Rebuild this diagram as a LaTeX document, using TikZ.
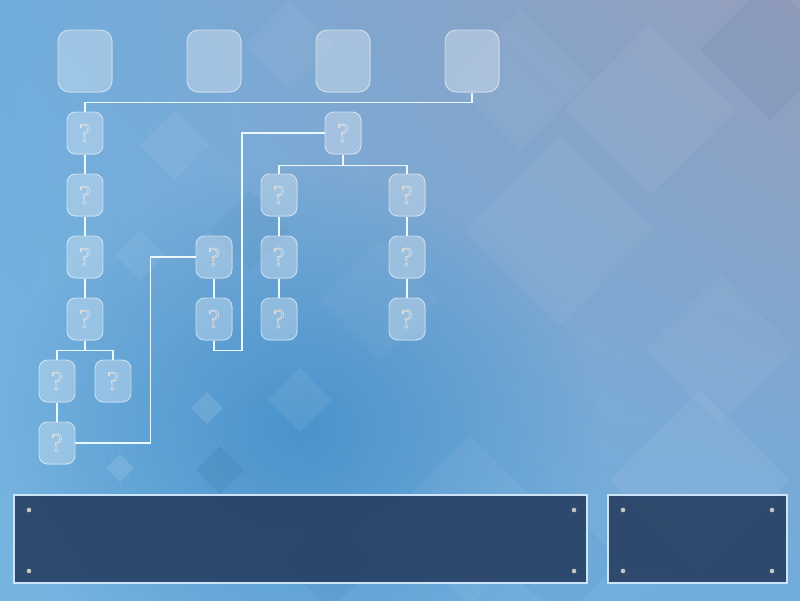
\documentclass[tikz,border=0pt]{standalone}
\usepackage{fontspec}
\setsansfont{DejaVu Sans}
\newfontfamily\qfont{Liberation Serif}
\usetikzlibrary{fadings,shadings}
\definecolor{bgtl}{RGB}{112,172,220}
\definecolor{bgtr}{RGB}{150,158,188}
\definecolor{bgbl}{RGB}{118,180,224}
\definecolor{bgbr}{RGB}{112,172,220}
\definecolor{bgdeep}{RGB}{58,138,200}
\definecolor{panelblue}{RGB}{38,60,96}
\definecolor{rimblue}{RGB}{205,228,246}
\tikzfading[name=fuzzy, inner color=transparent!0, outer color=transparent!100]
% outlined question mark
\newcommand{\qmark}{\special{pdf:literal direct 1 Tr 0.45 w}?\special{pdf:literal direct 0 Tr}}
\begin{document}
\begin{tikzpicture}[x=0.025cm, y=-0.025cm, every node/.style={font=\sffamily},
    slot/.style={draw=white, draw opacity=0.55, fill=white, fill opacity=0.3, text opacity=1, rounded corners=8pt, minimum width=1.35cm, minimum height=1.55cm, line width=0.7pt},
    tile/.style={draw=white, draw opacity=0.55, fill=white, fill opacity=0.3, text opacity=1, rounded corners=6pt, minimum width=0.9cm, minimum height=1.05cm, line width=0.7pt, text=white!75!gray, font=\qfont\fontsize{19}{19}\selectfont},
    link/.style={draw=white!92!cyan, line width=0.8pt},
    panel/.style={draw=rimblue, line width=1.5pt, fill=panelblue, fill opacity=0.88, minimum height=2.2cm}]
    \useasboundingbox (0,0) rectangle (800,600);

    % Background
    \shade[upper left=bgtl, upper right=bgtr, lower left=bgbl, lower right=bgbr] (0,0) rectangle (800,600);
    \fill[bgdeep, opacity=0.75, path fading=fuzzy] (300,430) ellipse (300 and 260);
    \foreach \cx/\cy/\s/\o in {175/145/35/0.06, 140/255/25/0.06, 290/45/45/0.04, 300/400/32/0.07, 207/408/16/0.12, 120/468/14/0.12, 560/230/95/0.04, 650/110/85/0.05, 720/350/75/0.04, 470/520/85/0.05, 700/480/90/0.06, 520/80/70/0.04, 380/300/60/0.04}
        \fill[white, opacity=\o] (\cx,\cy) +(0,-\s) -- +(\s,0) -- +(0,\s) -- +(-\s,0) -- cycle;
    \foreach \cx/\cy/\s/\o in {220/470/24/0.14, 250/230/40/0.06, 770/50/70/0.08, 330/560/50/0.08, 560/560/60/0.06}
        \fill[bgdeep!70!black, opacity=\o] (\cx,\cy) +(0,-\s) -- +(\s,0) -- +(0,\s) -- +(-\s,0) -- cycle;

    % Era slots
    \node[slot] (era1) at (85,61) {};
    \node[slot] (era2) at (214,61) {};
    \node[slot] (era3) at (343,61) {};
    \node[slot] (era4) at (472,61) {};

    % Left branch
    \node[tile] (a1) at (85,133) {\qmark};
    \node[tile] (a2) at (85,195) {\qmark};
    \node[tile] (a3) at (85,257) {\qmark};
    \node[tile] (a4) at (85,319) {\qmark};
    \node[tile] (b1) at (57,381) {\qmark};
    \node[tile] (b2) at (113,381) {\qmark};
    \node[tile] (b3) at (57,443) {\qmark};

    % Middle branch
    \node[tile] (c1) at (214,257) {\qmark};
    \node[tile] (c2) at (214,319) {\qmark};

    % Right branch
    \node[tile] (d0) at (343,133) {\qmark};
    \node[tile] (d1) at (279,195) {\qmark};
    \node[tile] (d2) at (279,257) {\qmark};
    \node[tile] (d3) at (279,319) {\qmark};
    \node[tile] (e1) at (407,195) {\qmark};
    \node[tile] (e2) at (407,257) {\qmark};
    \node[tile] (e3) at (407,319) {\qmark};

    % Links
    \draw[link] (era4.south) -- ++(0,10) -| (a1.north);
    \draw[link] (a1) -- (a2) -- (a3) -- (a4);
    \draw[link] (a4.south) -- ++(0,10) -| (b1.north);
    \draw[link] (a4.south) ++(0,10) -| (b2.north);
    \draw[link] (b1) -- (b3);
    \draw[link] (b3.east) -- ++(75,0) |- (c1.west);
    \draw[link] (c1) -- (c2);
    \draw[link] (c2.south) -- ++(0,10) -- ++(28,0) |- (d0.west);
    \draw[link] (d0.south) -- ++(0,11) -| (d1.north);
    \draw[link] (d0.south) ++(0,11) -| (e1.north);
    \draw[link] (d1) -- (d2) -- (d3);
    \draw[link] (e1) -- (e2) -- (e3);

    % Bottom panels
    \node[panel, minimum width=14.325cm] (infobar) at (300.5,539) {};
    \node[panel, minimum width=4.475cm] (sidebar) at (697.5,539) {};
    \foreach \px/\py in {29/510, 29/571, 574/510, 574/571, 623/510, 623/571, 772/510, 772/571}
        \fill[gray!45] (\px,\py) circle (2.3);
\end{tikzpicture}
\end{document}
